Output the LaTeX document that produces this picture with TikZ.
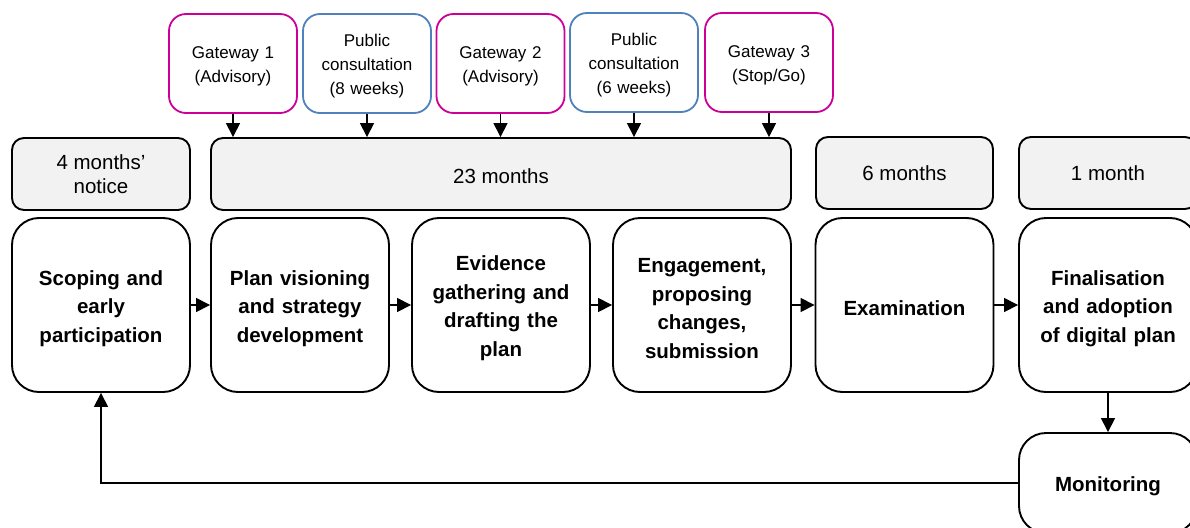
\documentclass[tikz,border=0pt]{standalone}
\usepackage{fontspec}
\setmainfont{Liberation Sans}
\usetikzlibrary{arrows.meta}
\definecolor{gwmag}{HTML}{CC0099}
\definecolor{pcblue}{HTML}{4F81BD}
\definecolor{durgray}{HTML}{F2F2F2}
\begin{document}
\begin{tikzpicture}[x=1pt,y=-1pt,
  gate/.style={draw=gwmag,line width=1.8pt,rounded corners=17pt,minimum width=128pt,minimum height=99pt,align=center,text width=122pt,inner sep=0pt,font=\fontsize{17}{24}\selectfont,execute at begin node={\rule{0pt}{18.5pt}}},
  pub/.style={gate,draw=pcblue},
  dur/.style={draw=black,fill=durgray,line width=1.9pt,rounded corners=12pt,minimum height=72pt,align=center,inner sep=0pt,font=\fontsize{20.5}{24}\selectfont},
  stage/.style={draw=black,line width=1.9pt,rounded corners=27pt,minimum width=178pt,minimum height=174pt,align=center,text width=172pt,inner sep=0pt,font=\fontsize{20.5}{28.5}\selectfont\bfseries,execute at begin node={\rule{0pt}{21.5pt}}},
  arr/.style={line width=1.5pt,-{Triangle[width=14pt,length=14pt]}}
]
\clip (0,0) rectangle (1190,527);
\fill[white] (0,0) rectangle (1190,527);

% gateway / consultation boxes
\node[gate] (g1) at (233,63.5) {Gateway 1\\(Advisory)};
\node[pub]  (p1) at (367,63.5) {Public\\consultation\\(8 weeks)};
\node[gate] (g2) at (500.5,63.5) {Gateway 2\\(Advisory)};
\node[pub]  (p2) at (634,62.5) {Public\\consultation\\(6 weeks)};
\node[gate] (g3) at (769,62.5) {Gateway 3\\(Stop/Go)};

% duration boxes
\node[dur,minimum width=178pt] (d1) at (101,174) {4 months'\\notice};
\node[dur,minimum width=580pt,execute at begin node={\rule{0pt}{19pt}}] (d2) at (501,174) {23 months};
\node[dur,minimum width=177pt] (d3) at (904.5,173) {6 months};
\node[dur,minimum width=178pt] (d4) at (1108,173) {1 month};

% stage boxes
\node[stage] (m1) at (101,305) {Scoping and\\early\\participation};
\node[stage] (m2) at (300,305) {Plan visioning\\and strategy\\development};
\node[stage] (m3) at (501,305) {Evidence\\gathering and\\drafting the\\plan};
\node[stage] (m4) at (702,305) {Engagement,\\proposing\\changes,\\submission};
\node[stage] (m5) at (904.5,305) {Examination};
\node[stage] (m6) at (1108,305) {Finalisation\\and adoption\\of digital plan};
\node[stage,minimum height=100pt] (mon) at (1108,483) {Monitoring};

% arrows from top boxes
\foreach \n in {g1,p1,g2,p2,g3}
  \draw[arr] (\n.south) -- (\n.south |- d2.north);

% stage arrows
\draw[arr] (m1.east) -- (m2.west);
\draw[arr] (m2.east) -- (m3.west);
\draw[arr] (m3.east) -- (m4.west);
\draw[arr] (m4.east) -- (m5.west);
\draw[arr] (m5.east) -- (m6.west);
\draw[arr] (m6.south) -- (mon.north);
\draw[arr] (mon.west) -| (m1.south);
\end{tikzpicture}
\end{document}
